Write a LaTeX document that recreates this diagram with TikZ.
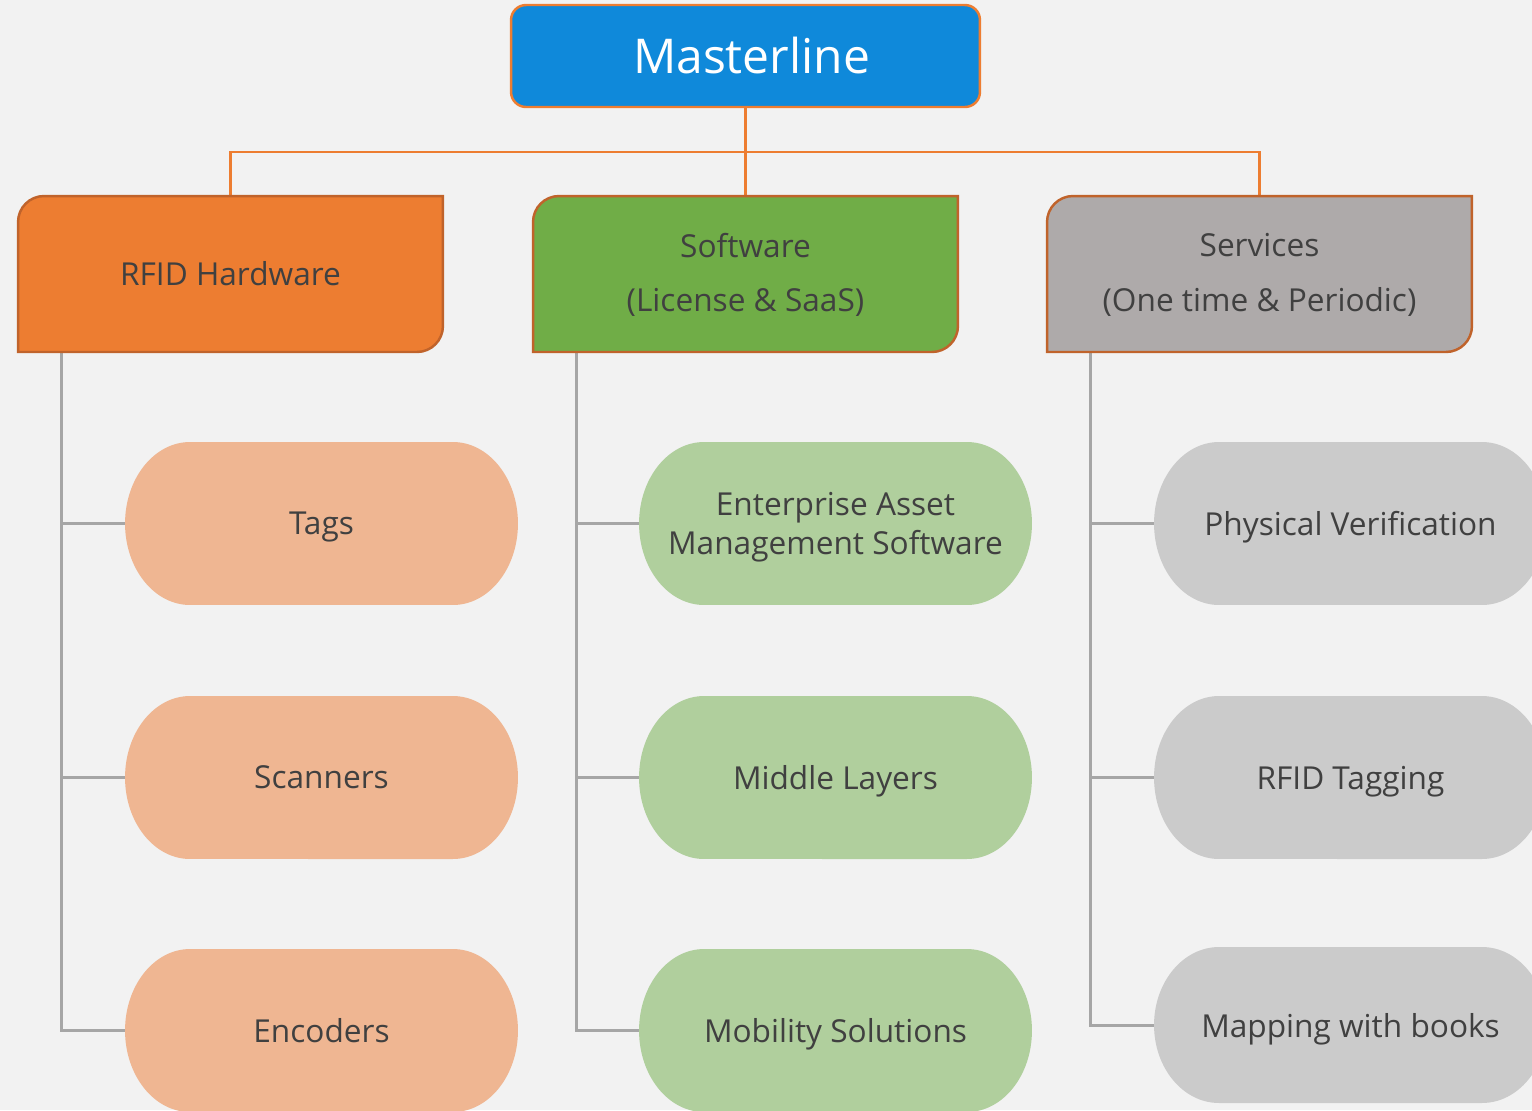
\documentclass[tikz,border=0pt]{standalone}
\usepackage{fontspec}
\setmainfont{Open Sans}
\usetikzlibrary{backgrounds,calc}
\definecolor{pagebg}{HTML}{F2F2F2}
\definecolor{masterblue}{HTML}{0F89DA}
\definecolor{accorange}{HTML}{ED7D31}
\definecolor{catborder}{HTML}{C0632B}
\definecolor{hwfill}{HTML}{ED7D31}
\definecolor{swfill}{HTML}{70AD47}
\definecolor{svfill}{HTML}{AEAAAA}
\definecolor{hwlight}{HTML}{EFB692}
\definecolor{swlight}{HTML}{B0CF9D}
\definecolor{svlight}{HTML}{CBCBCB}
\definecolor{textgray}{HTML}{404040}
\definecolor{linegray}{HTML}{A6A6A6}
\newcommand{\catshape}[2]{%
  \filldraw[fill=#2, draw=catborder, line width=1.4pt]
    (#1.south west) -- ([yshift=-0.52cm]#1.north west)
    arc[start angle=180, end angle=90, radius=0.52cm]
    -- (#1.north east) -- ([yshift=0.52cm]#1.south east)
    arc[start angle=0, end angle=-90, radius=0.52cm] -- cycle;}
\newcommand{\pillshape}[3]{%
  \fill[#2] ([xshift=1.3cm]#1.north west) -- ([xshift=-1.3cm]#1.north east)
    arc[start angle=90, end angle=-90, x radius=1.3cm, y radius=#3]
    -- ([xshift=1.3cm]#1.south west)
    arc[start angle=270, end angle=90, x radius=1.3cm, y radius=#3] -- cycle;}
\begin{document}
\begin{tikzpicture}[x=0.02cm, y=0.02cm,
  master/.style={rectangle, rounded corners=0.3cm, fill=masterblue, draw=accorange,
    line width=1.4pt, minimum width=9.38cm, minimum height=2.04cm, inner sep=0pt,
    outer sep=0pt, text=white, font=\fontsize{27.3}{30}\selectfont},
  catbox/.style={rectangle, minimum width=8.5cm, minimum height=3.12cm, inner sep=0pt,
    outer sep=0pt, align=center, text=textgray, font=\fontsize{18}{31}\selectfont},
  pillbox/.style={rectangle, minimum width=7.86cm, minimum height=3.26cm, inner sep=0pt,
    outer sep=0pt, align=center, text=textgray, text depth=0pt,
    font=\fontsize{18}{22}\selectfont},
  oline/.style={draw=accorange, line width=1.7pt},
  gline/.style={draw=linegray, line width=1.7pt}]
\useasboundingbox (0,0) rectangle (1532,-1110);

\node[master] (ml) at (745.5,-56) {\hspace*{0.24cm}Masterline};

\node[catbox] (rf) at (230.5,-274) {RFID Hardware};
\node[catbox, text depth=2pt] (sw) at (745.5,-274) {Software\\(License \& SaaS)};
\node[catbox, text depth=2pt] (sv) at (1259.5,-274) {Services\\(One time \& Periodic)};

\node[pillbox] (tags) at (321.5,-523.5) {Tags};
\node[pillbox] (scan) at (321.5,-777.5) {Scanners};
\node[pillbox] (enc)  at (321.5,-1030.5) {Encoders};

\node[pillbox] (eams) at (835.5,-523.5) {Enterprise Asset\\Management Software};
\node[pillbox] (mid)  at (835.5,-777.5) {Middle Layers};
\node[pillbox] (mob)  at (835.5,-1030.5) {Mobility Solutions};

\node[pillbox] (pv)   at (1350.5,-523.5) {Physical Verification};
\node[pillbox] (tagg) at (1350.5,-777.5) {RFID Tagging};
\node[pillbox, minimum height=3.12cm] (map) at (1350.5,-1025) {Mapping with books};

\begin{scope}[on background layer]
  \fill[pagebg] (0,0) rectangle (1532,-1110);
  % orange connectors
  \draw[oline] (ml.south) -- (sw.north);
  \draw[oline] (ml.south) -- ++(0,-45) -| (rf.north);
  \draw[oline] (ml.south) -- ++(0,-45) -| (sv.north);
  % gray connectors
  \draw[gline] ([xshift=0.86cm]rf.south west) |- (enc.west);
  \draw[gline] ([xshift=0.86cm]rf.south west) |- (tags.west);
  \draw[gline] ([xshift=0.86cm]rf.south west) |- (scan.west);
  \draw[gline] ([xshift=0.86cm]sw.south west) |- (mob.west);
  \draw[gline] ([xshift=0.86cm]sw.south west) |- (eams.west);
  \draw[gline] ([xshift=0.86cm]sw.south west) |- (mid.west);
  \draw[gline] ([xshift=0.86cm]sv.south west) |- (map.west);
  \draw[gline] ([xshift=0.86cm]sv.south west) |- (pv.west);
  \draw[gline] ([xshift=0.86cm]sv.south west) |- (tagg.west);
  % category boxes
  \catshape{rf}{hwfill}
  \catshape{sw}{swfill}
  \catshape{sv}{svfill}
  % pills
  \pillshape{tags}{hwlight}{1.63cm}
  \pillshape{scan}{hwlight}{1.63cm}
  \pillshape{enc}{hwlight}{1.63cm}
  \pillshape{eams}{swlight}{1.63cm}
  \pillshape{mid}{swlight}{1.63cm}
  \pillshape{mob}{swlight}{1.63cm}
  \pillshape{pv}{svlight}{1.63cm}
  \pillshape{tagg}{svlight}{1.63cm}
  \pillshape{map}{svlight}{1.56cm}
\end{scope}
\end{tikzpicture}
\end{document}
